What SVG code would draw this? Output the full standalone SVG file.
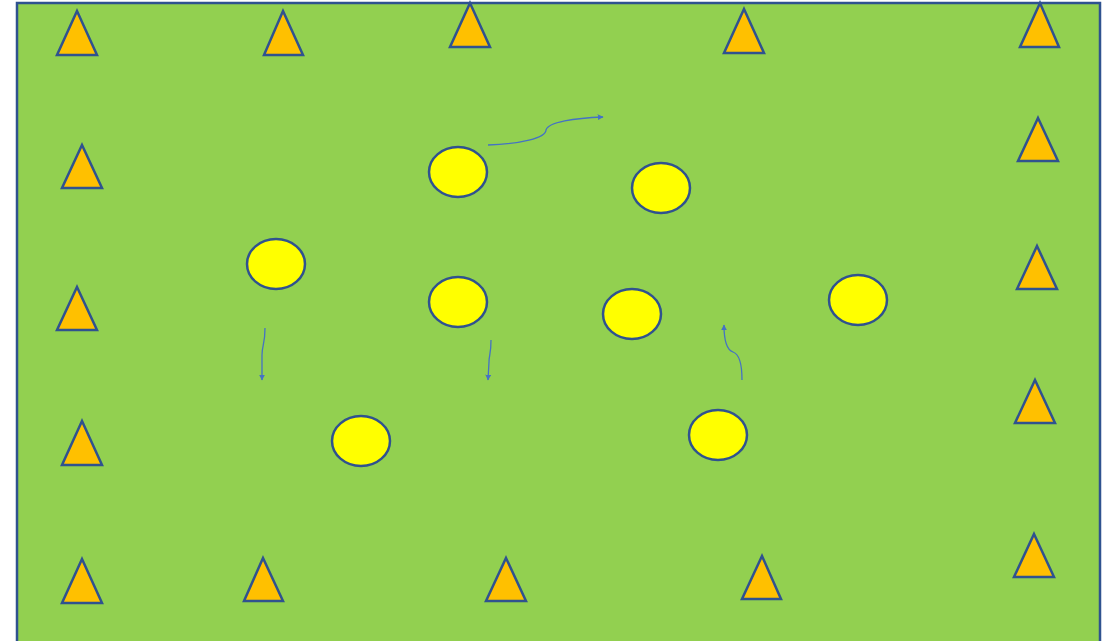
<svg xmlns="http://www.w3.org/2000/svg" width="1103" height="641" viewBox="0 0 1103 641">
<style>
.tri{fill:#FFC000;stroke:#2F528F;stroke-width:2.5;stroke-linejoin:miter}
.ball{fill:#FFFF00;stroke:#2F528F;stroke-width:2.5}
.run{fill:none;stroke:#4472C4;stroke-width:1.3}
</style>
<defs>
<marker id="ah" viewBox="0 0 10 10" refX="9" refY="5" markerWidth="6" markerHeight="6" markerUnits="userSpaceOnUse" orient="auto">
<path d="M0,0 L10,5 L0,10 Z" fill="#4472C4"/>
</marker>
</defs>
<rect width="1103" height="641" fill="#FFFFFF"/>
<rect id="pitch" x="17" y="3" width="1083" height="650" fill="#92D050" stroke="#2F528F" stroke-width="2.5"/>
<g id="cones">
<polygon id="c1" class="tri" points="77,11 97,55 57,55"/>
<polygon id="c2" class="tri" points="283,11 303,55 264,55"/>
<polygon id="c3" class="tri" points="470,3 490,47 450,47"/>
<polygon id="c4" class="tri" points="744,9 764,53 724,53"/>
<polygon id="c5" class="tri" points="1040,3 1059,47 1020,47"/>
<polygon id="c6" class="tri" points="82,145 102,188 62,188"/>
<polygon id="c7" class="tri" points="77,287 97,330 57,330"/>
<polygon id="c8" class="tri" points="82,421 102,465 62,465"/>
<polygon id="c9" class="tri" points="82,559 102,603 62,603"/>
<polygon id="c10" class="tri" points="263,558 283,601 244,601"/>
<polygon id="c11" class="tri" points="506,558 526,601 486,601"/>
<polygon id="c12" class="tri" points="762,556 781,599 742,599"/>
<polygon id="c13" class="tri" points="1038,118 1058,161 1018,161"/>
<polygon id="c14" class="tri" points="1037,246 1057,289 1017,289"/>
<polygon id="c15" class="tri" points="1035,380 1055,423 1015,423"/>
<polygon id="c16" class="tri" points="1034,534 1054,577 1014,577"/>
</g>
<g id="players">
<ellipse id="p1" class="ball" cx="458" cy="172" rx="29" ry="25"/>
<ellipse id="p2" class="ball" cx="661" cy="188" rx="29" ry="25"/>
<ellipse id="p3" class="ball" cx="276" cy="264" rx="29" ry="25"/>
<ellipse id="p4" class="ball" cx="458" cy="302" rx="29" ry="25"/>
<ellipse id="p5" class="ball" cx="632" cy="314" rx="29" ry="25"/>
<ellipse id="p6" class="ball" cx="858" cy="300" rx="29" ry="25"/>
<ellipse id="p7" class="ball" cx="361" cy="441" rx="29" ry="25"/>
<ellipse id="p8" class="ball" cx="718" cy="435" rx="29" ry="25"/>
</g>
<g id="connectors">
<path class="run" marker-end="url(#ah)" d="M488,145 C520,144 546,138 546,130 C548,122 575,118 603,117"/>
<path class="run" marker-end="url(#ah)" d="M265,328 C265,345 262,345 262,355 L262,380"/>
<path class="run" marker-end="url(#ah)" d="M491,340 C491,355 489,355 489,362 L488,380"/>
<path class="run" marker-end="url(#ah)" d="M742,380 C742,362 739,354 733,352 C727,350 724,340 724,325"/>
</g>
</svg>
